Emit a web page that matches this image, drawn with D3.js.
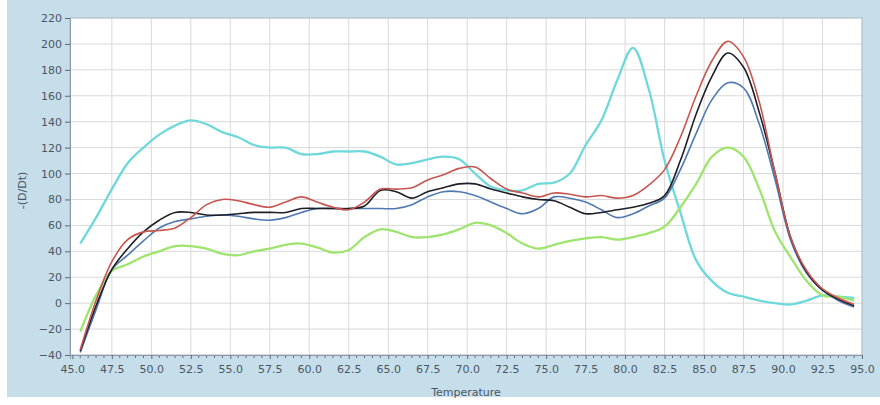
<!DOCTYPE html>
<html><head><meta charset="utf-8">
<script src="https://cdn.jsdelivr.net/npm/d3@7"></script>
<style>html,body{margin:0;padding:0;background:#fff;}svg{display:block;}</style>
</head><body>
<svg id="chart" width="880" height="405"></svg>
<script>
const temps = [45.5,46.5,47.5,48.5,49.5,50.5,51.5,52.5,53.5,54.5,55.5,56.5,57.5,58.5,59.5,60.5,61.5,62.5,63.5,64.5,65.5,66.5,67.5,68.5,69.5,70.5,71.5,72.5,73.5,74.5,75.5,76.5,77.5,78.5,79.5,80.5,81.5,82.5,83.5,84.5,85.5,86.5,87.5,88.5,89.5,90.5,91.5,92.5,93.5,94.5];
const cyanValues  = [46,66,88,108,120,130,137,141,138,132,128,122,120,120,115,115,117,117,117,113,107,108,111,113,111,100,90,87,87,92,93,100,122,141,172,197,165,110,70,33,17,8,5,2,0,-1,2,6,5,4];
const redValues   = [-36,2,32,49,55,56,58,66,76,80,79,76,74,78,82,78,74,72,78,88,88,89,95,99,104,105,96,88,85,82,85,84,82,83,81,83,91,103,128,160,187,202,190,155,100,50,25,11,4,-1];
const blackValues = [-37,-2,26,42,55,64,70,70,68,68,69,70,70,70,73,73,73,73,75,87,86,81,86,89,92,92,88,85,82,80,79,74,69,70,72,74,77,83,110,146,175,193,182,147,100,50,24,10,3,-2];
const blueValues  = [-38,-5,26,37,48,58,63,65,67,68,67,65,64,66,70,73,73,73,73,73,73,76,82,86,86,83,78,73,69,73,82,81,78,72,66,69,75,81,103,131,157,170,166,138,95,48,23,10,2,-3];
const greenValues = [-22,6,25,30,36,40,44,44,42,38,37,40,42,45,46,43,39,41,51,57,55,51,51,53,57,62,60,54,46,42,45,48,50,51,49,51,54,59,74,92,113,120,113,88,55,35,17,6,5,2];
const seriesNames = ["cyan","green","blue","black","red"];
const seriesColors = {cyan:"#6fd8da", red:"#c8554f", black:"#1e1e28", blue:"#4f79b0", green:"#9ee46e"};
const seriesData = {cyan:cyanValues, red:redValues, black:blackValues, blue:blueValues, green:greenValues};
const xTicks = [45.0,47.5,50.0,52.5,55.0,57.5,60.0,62.5,65.0,67.5,70.0,72.5,75.0,77.5,80.0,82.5,85.0,87.5,90.0,92.5,95.0];
const yTicks = [-40,-20,0,20,40,60,80,100,120,140,160,180,200,220];
const xLabel = "Temperature";
const yLabel = "-(D/Dt)";

const svg = d3.select("#chart");
const L = 70, R = 862, T = 18, B = 355;
const x = d3.scaleLinear().domain([44.85, 95]).range([L, R]);
const y = d3.scaleLinear().domain([-40, 220]).range([B, T]);

// background
svg.append("rect").attr("x",7).attr("y",0).attr("width",873).attr("height",397).attr("fill","#c6dee9");
svg.append("rect").attr("x",L).attr("y",T).attr("width",R-L).attr("height",B-T).attr("fill","#ffffff");

// grid
const g = svg.append("g");
g.selectAll("line.vg").data(xTicks.slice(1,-1)).join("line")
  .attr("x1",d=>x(d)).attr("x2",d=>x(d)).attr("y1",T).attr("y2",B)
  .attr("stroke","#d9d9d9").attr("stroke-width",1);
g.selectAll("line.hg").data(yTicks.slice(1,-1)).join("line")
  .attr("x1",L).attr("x2",R).attr("y1",d=>y(d)).attr("y2",d=>y(d))
  .attr("stroke","#d9d9d9").attr("stroke-width",1);

// frame
svg.append("rect").attr("x",L).attr("y",T).attr("width",R-L).attr("height",B-T)
  .attr("fill","none").attr("stroke","#a9b4bd").attr("stroke-width",1);

// lines
const line = d3.line().x((d,i)=>x(temps[i])).y(d=>y(d)).curve(d3.curveCatmullRom.alpha(0.5));
const clip = svg.append("clipPath").attr("id","clip").append("rect").attr("x",L).attr("y",T).attr("width",R-L).attr("height",B-T);
svg.append("g").attr("clip-path","url(#clip)").selectAll("path").data(seriesNames).join("path")
  .attr("d",n=>line(seriesData[n])).attr("fill","none")
  .attr("stroke",n=>seriesColors[n]).attr("stroke-width",n=>n==="cyan"||n==="green"?2.3:1.6)
  .attr("stroke-linejoin","round");

// axes
const font = "'DejaVu Sans', sans-serif";
const xAxis = d3.axisBottom(x).tickValues(xTicks).tickSize(4).tickPadding(6).tickFormat(d3.format(".1f"));
const xg = svg.append("g").attr("transform",`translate(0,${B})`).call(xAxis);
const yAxis = d3.axisLeft(y).tickValues(yTicks).tickSize(5).tickPadding(3);
const yg = svg.append("g").attr("transform",`translate(${L},0)`).call(yAxis);
[xg,yg].forEach(a=>{
  a.select(".domain").attr("stroke","#8d9aa6");
  a.selectAll(".tick line").attr("stroke","#5d6b78");
  a.selectAll("text").attr("fill","#4a5666").style("font-family",font).style("font-size","11px");
});
// minor ticks
const minor = d3.range(0, 101).map(i => 45 + i*0.5).filter(v => Math.abs((v-45)/2.5 - Math.round((v-45)/2.5)) > 1e-6);
svg.append("g").selectAll("line").data(minor).join("line")
  .attr("x1",d=>x(d)).attr("x2",d=>x(d)).attr("y1",B+1).attr("y2",B+3)
  .attr("stroke","#5d6b78").attr("stroke-width",1);

svg.append("text").attr("x",(L+R)/2).attr("y",396).attr("text-anchor","middle")
  .attr("fill","#4a5666").style("font-family",font).style("font-size","11px").text(xLabel);
svg.append("text").attr("transform",`translate(26,${(T+B)/2+4}) rotate(-90)`).attr("text-anchor","middle")
  .attr("fill","#4a5666").style("font-family",font).style("font-size","11px").text(yLabel);
</script>
</body></html>
